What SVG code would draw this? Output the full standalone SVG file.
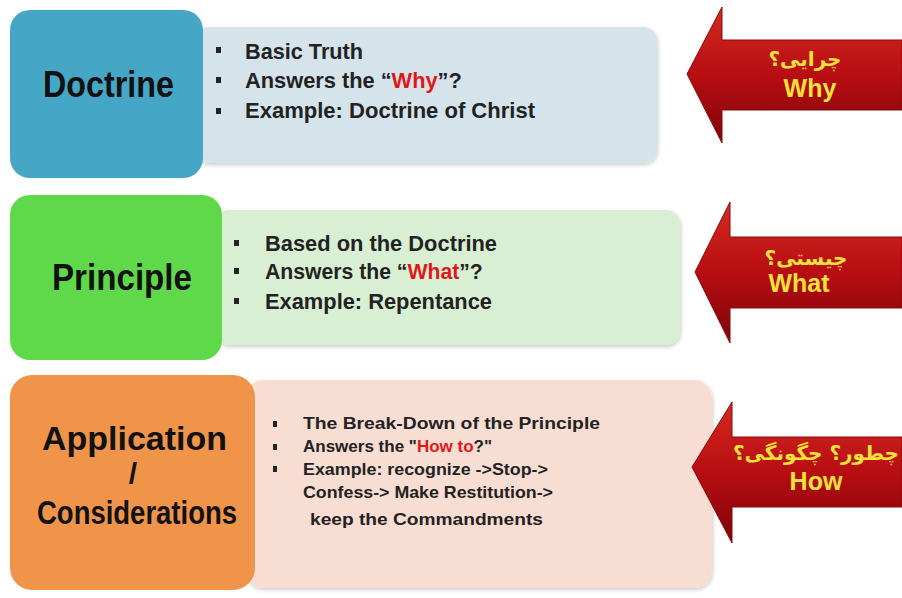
<svg xmlns="http://www.w3.org/2000/svg" width="902" height="598" viewBox="0 0 902 598">
<defs>
<linearGradient id="arrowGrad" x1="0" y1="0" x2="0" y2="1">
<stop offset="0" stop-color="#d42a20"/>
<stop offset="0.5" stop-color="#b80d12"/>
<stop offset="1" stop-color="#7e0408"/>
</linearGradient>
<filter id="sh" x="-5%" y="-5%" width="110%" height="115%">
<feGaussianBlur in="SourceAlpha" stdDeviation="2"/>
<feOffset dx="1" dy="2"/>
<feComponentTransfer><feFuncA type="linear" slope="0.2"/></feComponentTransfer>
<feMerge><feMergeNode/><feMergeNode in="SourceGraphic"/></feMerge>
</filter>
</defs>
<style>
.title{font-family:"Liberation Sans",Arial,sans-serif;font-weight:bold;fill:#111}
.item{font-family:"Liberation Sans",Arial,sans-serif;font-weight:bold;fill:#222}
.red{fill:#e01818}
.bul{fill:#222}
.arr{fill:url(#arrowGrad);stroke:#8a0a0a;stroke-width:1}
.fa{font-family:"DejaVu Sans","Noto Sans",sans-serif;font-weight:bold;fill:#f4e23a;text-anchor:middle;font-size:20px}
.en{font-family:"Liberation Sans",Arial,sans-serif;font-weight:bold;fill:#f4e23a;text-anchor:middle;font-size:25px}
</style>
<rect width="902" height="598" fill="#ffffff"/>

<g id="doctrine-panel">
<rect x="195" y="27" width="462" height="136" rx="14" fill="#d5e3ea" filter="url(#sh)"/>
<rect x="216" y="47" width="5" height="6" class="bul"/>
<rect x="216" y="77" width="5" height="6" class="bul"/>
<rect x="216" y="108" width="5" height="6" class="bul"/>
<text class="item" font-size="22" x="245" y="59" textLength="118" lengthAdjust="spacingAndGlyphs">Basic Truth</text>
<text class="item" font-size="21.8" x="245" y="88">Answers the “<tspan class="red">Why</tspan>”?</text>
<text class="item" font-size="22" x="245" y="118" textLength="290" lengthAdjust="spacingAndGlyphs">Example: Doctrine of Christ</text>
</g>
<g id="doctrine">
<rect x="10" y="10" width="193" height="168" rx="20" fill="#45a6c6"/>
<text class="title" font-size="36" x="43" y="97" textLength="131" lengthAdjust="spacingAndGlyphs">Doctrine</text>
</g>

<g id="principle-panel">
<rect x="215" y="210" width="465" height="135" rx="14" fill="#d9efd3" filter="url(#sh)"/>
<rect x="234" y="240" width="5" height="6" class="bul"/>
<rect x="234" y="268" width="5" height="6" class="bul"/>
<rect x="234" y="298" width="5" height="6" class="bul"/>
<text class="item" font-size="22" x="265" y="251" textLength="232" lengthAdjust="spacingAndGlyphs">Based on the Doctrine</text>
<text class="item" font-size="21.2" x="265" y="279">Answers the “<tspan class="red">What</tspan>”?</text>
<text class="item" font-size="22" x="265" y="309" textLength="227" lengthAdjust="spacingAndGlyphs">Example: Repentance</text>
</g>
<g id="principle">
<rect x="10" y="195" width="212" height="165" rx="20" fill="#5fd84a"/>
<text class="title" font-size="36" x="52" y="290" textLength="140" lengthAdjust="spacingAndGlyphs">Principle</text>
</g>

<g id="application-panel">
<rect x="245" y="380" width="467" height="208" rx="18" fill="#f8ddd2" filter="url(#sh)"/>
<rect x="273" y="421" width="4" height="6" class="bul"/>
<rect x="273" y="444" width="4" height="6" class="bul"/>
<rect x="273" y="466" width="4" height="6" class="bul"/>
<text class="item" font-size="17" x="303" y="429" textLength="297" lengthAdjust="spacingAndGlyphs">The Break-Down of the Principle</text>
<text class="item" font-size="17" x="303" y="452">Answers the "<tspan class="red">How to</tspan>?"</text>
<text class="item" font-size="17" x="303" y="475" textLength="245" lengthAdjust="spacingAndGlyphs">Example: recognize -&gt;Stop-&gt;</text>
<text class="item" font-size="17" x="303" y="498" textLength="250" lengthAdjust="spacingAndGlyphs">Confess-&gt; Make Restitution-&gt;</text>
<text class="item" font-size="17" x="310" y="525" textLength="233" lengthAdjust="spacingAndGlyphs">keep the Commandments</text>
</g>
<g id="application">
<rect x="10" y="375" width="245" height="215" rx="22" fill="#f0944a"/>
<text class="title" font-size="34" x="42" y="450" textLength="185" lengthAdjust="spacingAndGlyphs">Application</text>
<text class="title" font-size="30" x="133" y="484" text-anchor="middle">/</text>
<text class="title" font-size="34" x="37" y="524" textLength="200" lengthAdjust="spacingAndGlyphs">Considerations</text>
</g>

<g id="arrow-why">
<path class="arr" d="M687,74 L722,7 L722,40 L902,40 L902,110 L722,110 L722,143 Z"/>
<text class="fa" x="805" y="66">چرایی؟</text>
<text class="en" x="810" y="97">Why</text>
</g>
<g id="arrow-what">
<path class="arr" d="M695,272 L730,202 L730,237 L902,237 L902,308 L730,308 L730,343 Z"/>
<text class="fa" x="806" y="265">چیستی؟</text>
<text class="en" x="799" y="292">What</text>
</g>
<g id="arrow-how">
<path class="arr" d="M692,467 L732,402 L732,437 L902,437 L902,507 L732,507 L732,543 Z"/>
<text class="fa" x="816" y="460">چطور؟ چگونگی؟</text>
<text class="en" x="816" y="490">How</text>
</g>
<g id="connectors"></g>
</svg>
